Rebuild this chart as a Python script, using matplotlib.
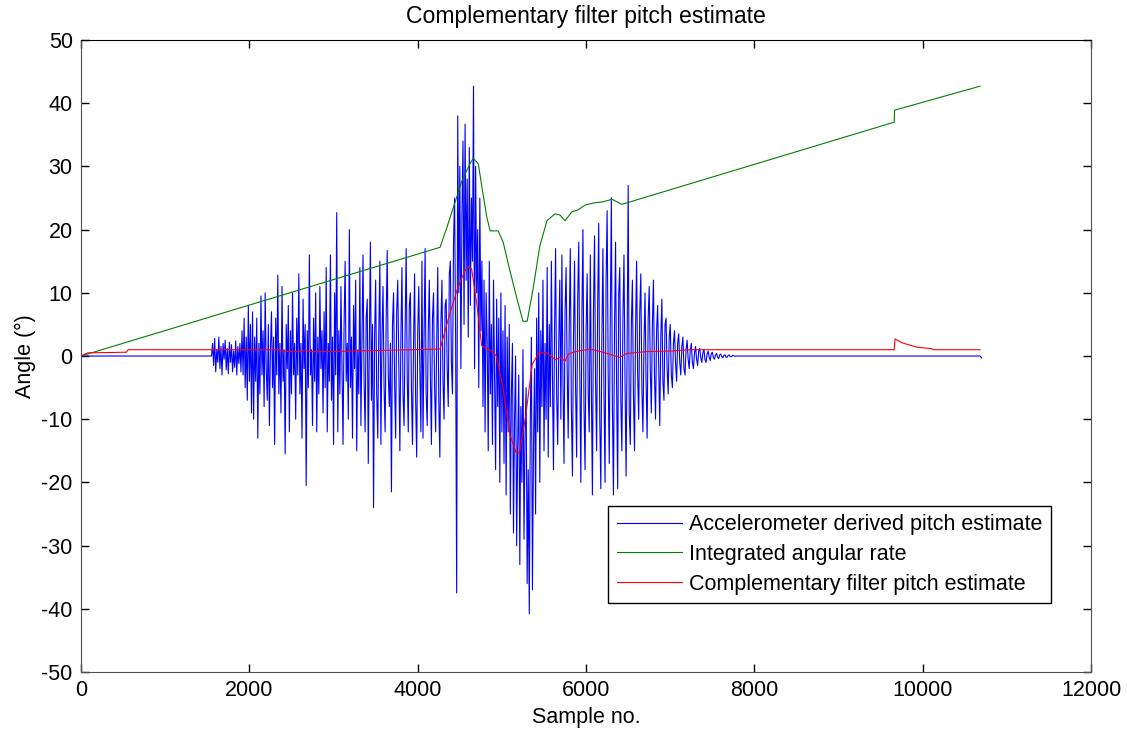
import numpy as np
import matplotlib
matplotlib.use("Agg")
import matplotlib.pyplot as plt

plt.rcParams['font.family'] = ['Liberation Sans', 'DejaVu Sans']
plt.rcParams['axes.unicode_minus'] = False

# accelerometer pitch: flat start, dense oscillation part every 12.5 samples, flat tail
acc_start_x = [0, 1530]
acc_start_y = [0, 0]
acc_step = 12.5
acc_first = 1550
acc_dense = [
    # 1550 - 2037.5
    0, 2, -1.5, 2.8, -2.5, 1, -1, 3, -2, 1.5, -3, 2, -0.5, 2.5, -2.2, 1.2, -2.8, 2.2, -1, 1.8,
    -2.5, 0.8, -1.8, 2.4, -3, 1.5, -1.2, 2, -2.5, 4, -3, 6, -5, 3, -7, 8, -4, 5, -9, 7,
    # 2050 - 2537.5
    -10, 3, -4, 6, -13, 2, -6, 9.5, -3, 4, -8, 10, -2, -7, 5, -11, 1, 7, -5, 3,
    -14, 6, -3, 12.8, -6, 2, -9, 11, -4, 1, -15.5, 5, -2, 8, -12, 4, -6, 10, -3, 2,
    # 2550 - 3037.5
    -10, 6, -3, 13, -6, 2, -13, 9, -2, 5, -20.5, 4, -5, 16, -3, 1, -11, 6, -4, 10,
    -12, 3, -6, 11, -2, 4, -9, 7, -5, 14, -12, 2, -4, 16, -7, 3, -14, 10, -3, 22.7,
    # 3050 - 3537.5
    -12, 4, -6, 11, -2, -14, 5, 15, -4, 2, -10, 20, -5, 3, -13, 8, -2, 12, -15, 1,
    -6, 14, -11, 3, 16, -4, -12, 6, 9, -17, 2, 18, -7, 5, -24, 3, 12, -6, -13, 4,
    # 3550 - 4037.5
    15, -14, 3, 11, -5, -12, 6, 16.7, -3, -8, 2, -21.5, 5, 10, -4, -13, 7, 12, -2, -15,
    3, 14, -6, -11, 4, 17, -3, -12, 8, 10, -5, -14, 2, 13, -7, -16, 4, 11, -2, -12,
    # 4050 - 4537.5
    15, -13, 3, 17, -6, -11, 4, 12, -3, -14, 6, 10, -5, -12, 2, 14, -7, -16, 5, 12,
    -4, -10, 8, 9, -2, -8, 13, 15, -1, -6, 18, 25, 3, -37.5, 38, 10, 30, -2, 22, 34,
    # 4550 - 5037.5
    5, 36.7, 12, 28, 3, 33, 8, 25, 15, 42.7, -2, 30, 10, 20, -5, 25, 4, 15, -8, 12,
    -12, 10, 2, -15, 15, -6, 5, -14, 12, -3, -18, 9, -8, 6, -20, 10, -12, 4, -17, 8,
    # 5050 - 5537.5
    -22, 3, -12, 5, -25, -6, 2, -28, -10, 0, -30, -14, -3, -33, -8, -20, 1, -29, -12, -5,
    -36, -18, -40.8, -10, 3, -37, -15, -2, -25, 6, -12, 10, -20, 4, -8, 12, -15, 2, -10, 14,
    # 5550 - 6037.5
    -16, 5, -8, 15, -3, -18, 4, 17, -6, -14, 2, 12, -10, 16, -4, -17, 7, 14, -2, -13,
    5, 17, -8, -19, 3, 15, -5, -16, 9, 18, -3, -20, 6, 20, -8, -18, 4, 13, -6, -12,
    # 6050 - 6537.5
    16, -5, -22, 7, 19, -4, -15, 8, 21, -10, -21, 3, 17, -6, -20, 12, 23, -3, -17, 6,
    25, -8, -22, 4, 18, -5, -21, 10, 14, -7, -15, 6, 16, -4, -19, 2, 27, -9, -14, 5,
    # 6550 - 7037.5
    12, -6, -15, 4, 15, -3, -10, 7, 13, -5, -12, 2, 10, -4, -13, 6, 11, -2, -9, 5,
    12, -3, -10, 4, 8, -2, -11, 3, 9, -4, -7, 5, 6, -2, -6, 3, 5, -3, -5, 2,
    # 7050 - 7537.5
    4, -1, -4, 2, 3.5, -1, -3, 1.5, 3, -2, -3, 1, 2.5, -0.5, -2, 1, 2, -1, -2, 0.5,
    1.5, -0.5, -1.5, 0.8, 1.2, -0.3, -1, 0.5, 1, -0.6, -1, 0.3, 0.8, -0.2, -0.7, 0.4, 0.6, -0.3, -0.5, 0.2,
    # 7550 - 7787.5
    0.4, -0.2, -0.4, 0.2, 0.3, -0.1, -0.3, 0.1, 0.2, -0.2, -0.2, 0.1, 0.15, -0.1, -0.1, 0.05, 0.1, 0, -0.05, 0,
]
acc_end_x = [7800, 10680, 10700]
acc_end_y = [0, 0, -0.3]

# integrated angular rate
gyro_x = [0, 4265, 4345, 4440, 4525, 4620, 4660, 4720, 4765, 4820, 4860, 4955, 5015, 5095,
          5180, 5250, 5300, 5370, 5450, 5535, 5630, 5690, 5750, 5830, 5900, 5990, 6085, 6200,
          6310, 6425, 9660, 9665, 10680]
gyro_y = [0, 17.2, 20.3, 24.2, 27.7, 30.4, 31.3, 30.4, 26.5, 22, 19.8, 19.8, 18, 13.5,
          9, 5.5, 5.5, 10.6, 17.4, 21.4, 22.5, 22.3, 21.4, 22.8, 23.1, 23.9, 24.2, 24.4,
          24.8, 24.0, 37.0, 38.9, 42.7]

# complementary filter output
comp_x = [0, 80, 540, 560, 2350, 2400, 2600, 2660, 2720, 2960, 4265, 4370, 4470, 4560, 4600,
          4640, 4700, 4760, 4880, 4935, 5015, 5095, 5170, 5210, 5280, 5360, 5440, 5530, 5640,
          5690, 5750, 5790, 5870, 6050, 6200, 6400, 6480, 6720, 7030, 7235, 7500, 9660, 9670,
          9760, 9930, 10110, 10120, 10680]
comp_y = [0, 0.5, 0.6, 1.0, 1.0, 0.7, 0.7, 0.95, 0.7, 0.7, 1.1, 6.2, 10.6, 13.5, 14.1,
          13.8, 8.4, 1.6, 0.8, 0.0, -5.2, -12.5, -15.3, -15.3, -9.7, -1.3, 0.5, 0.5, -0.6,
          -0.2, -0.8, 0.3, 0.7, 1.1, 0.6, -0.2, 0.4, 0.7, 0.8, 1.0, 1.0, 1.0, 2.7,
          2.06, 1.4, 1.15, 1.0, 1.0]

labels = ['Accelerometer derived pitch estimate', 'Integrated angular rate',
          'Complementary filter pitch estimate']

acc_x = acc_start_x + list(acc_first + acc_step * np.arange(len(acc_dense))) + acc_end_x
acc_y = acc_start_y + acc_dense + acc_end_y

fs = 15.5
fig = plt.figure(figsize=(11.27, 7.33), dpi=100)
ax = fig.add_axes([0.0719, 0.0832, 0.8963, 0.8622])

ax.plot(acc_x, acc_y, color='#0000ff', lw=0.8, label=labels[0])
ax.plot(gyro_x, gyro_y, color='#008000', lw=0.8, label=labels[1])
ax.plot(comp_x, comp_y, color='#ff0000', lw=0.8, label=labels[2])

ax.set_xlim(0, 12000)
ax.set_ylim(-50, 50)
ax.set_xticks(np.arange(0, 12001, 2000))
ax.set_yticks(np.arange(-50, 51, 10))
ax.tick_params(direction='in', top=True, right=True, length=6, width=1,
               labelsize=fs, pad=6)
for s in ax.spines.values():
    s.set_color('#505050')
ax.spines['top'].set_color('black')

ax.set_title('Complementary filter pitch estimate', fontsize=16.6, pad=12)
ax.set_xlabel('Sample no.', fontsize=fs, labelpad=4)
ax.set_ylabel('Angle (°)', fontsize=fs, labelpad=4)

leg = ax.legend(loc='upper left', bbox_to_anchor=(0.522, 0.263), borderaxespad=0,
                fontsize=fs, handlelength=3.0, handletextpad=0.33, labelspacing=0.4,
                borderpad=0.4, fancybox=False, framealpha=1, edgecolor='black')
leg.get_frame().set_linewidth(1.0)

fig.savefig('out.png', dpi=100)
